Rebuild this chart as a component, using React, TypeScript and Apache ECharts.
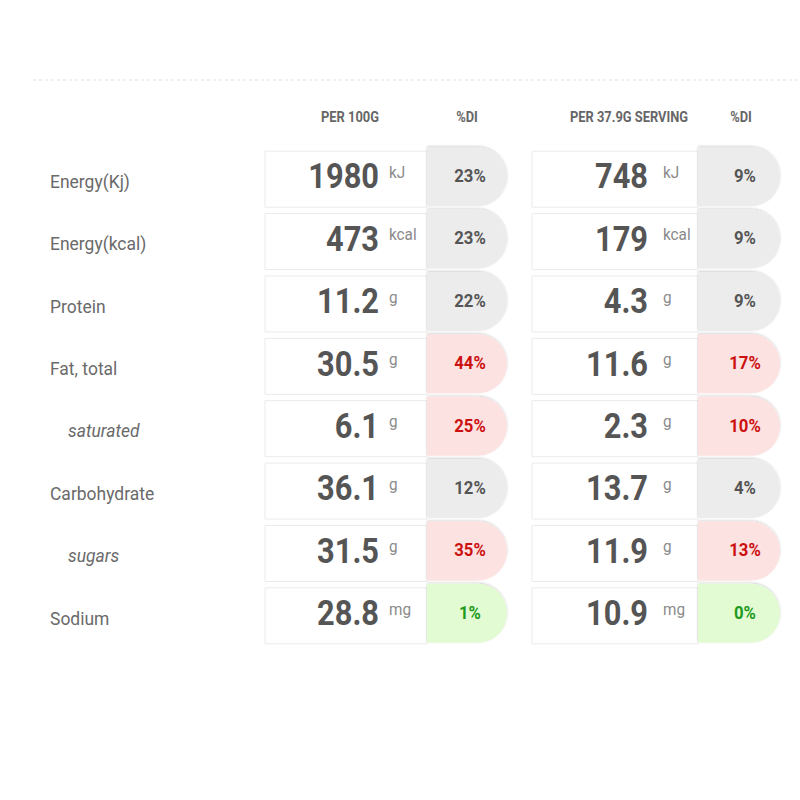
import React, { useEffect, useRef } from "react";
import * as echarts from "echarts";

const nutrients = ["Energy(Kj)", "Energy(kcal)", "Protein", "Fat, total", "saturated", "Carbohydrate", "sugars", "Sodium"];
const isSub = [false, false, false, false, true, false, true, false];
const units = ["kJ", "kcal", "g", "g", "g", "g", "g", "mg"];
const per100g = [1980, 473, 11.2, 30.5, 6.1, 36.1, 31.5, 28.8];
const di100g = [23, 23, 22, 44, 25, 12, 35, 1];
const perServing = [748, 179, 4.3, 11.6, 2.3, 13.7, 11.9, 10.9];
const diServing = [9, 9, 9, 17, 10, 4, 13, 0];
const levels = ["mid", "mid", "mid", "high", "high", "mid", "high", "low"];
const headers = ["PER 100G", "%DI", "PER 37.9G SERVING", "%DI"];

const FONT = "Roboto, 'Noto Sans', sans-serif";
const fmt = (v: number) => (Number.isInteger(v) ? String(v) : v.toFixed(1));
const pillFill: Record<string, string> = { mid: "#ececec", high: "#fde2e2", low: "#e2fbd2" };
const pillText: Record<string, string> = { mid: "#555555", high: "#cc1111", low: "#1f9a1f" };

export default function App() {
  const ref = useRef<HTMLDivElement>(null);
  useEffect(() => {
    const chart = echarts.init(ref.current!, null, { renderer: "svg" });
    const blocks = [
      { cellX: 265, cellW: 162, numRight: 379, unitX: 389, pillX: 427, pillW: 80, pctX: 470, vals: per100g, dis: di100g },
      { cellX: 532, cellW: 166, numRight: 648, unitX: 663, pillX: 698, pillW: 82, pctX: 745, vals: perServing, dis: diServing },
    ];
    const option: any = {
      animation: false,
      grid: { left: 0, right: 0, top: 148, bottom: 153 },
      xAxis: { type: "value", min: 0, max: 800, show: false },
      yAxis: { type: "category", data: nutrients, inverse: true, show: false },
      graphic: [
        { type: "line", shape: { x1: 33, y1: 80, x2: 800, y2: 80 }, style: { stroke: "#dddddd", lineWidth: 1, lineDash: [3, 3] } },
        ...headers.map((h, k) => ({
          type: "text",
          x: [350, 467, 629, 741][k],
          y: 117,
          scaleX: 0.92,
          style: { text: h, fill: "#666666", fontSize: 14, fontWeight: "bold", fontFamily: FONT, align: "center", verticalAlign: "middle" },
        })),
      ],
      series: [
        {
          type: "custom",
          coordinateSystem: "cartesian2d",
          data: nutrients.map((_, i) => [0, i]),
          encode: { x: 0, y: 1 },
          renderItem: (params: any, api: any) => {
            const i = api.value(1);
            const cy = api.coord([0, i])[1];
            const children: any[] = [];
            children.push({
              type: "text",
              x: isSub[i] ? 68 : 50,
              y: cy + 2,
              scaleX: 0.92,
              style: {
                text: nutrients[i],
                fill: "#6a6a6a",
                fontSize: 19,
                fontStyle: isSub[i] ? "italic" : "normal",
                fontFamily: FONT,
                align: "left",
                verticalAlign: "middle",
              },
            });
            blocks.forEach((b) => {
              children.push({
                type: "rect",
                shape: { x: b.cellX, y: cy - 28, width: b.cellW, height: 56 },
                style: { fill: "#ffffff", stroke: "#ebebeb", lineWidth: 1 },
              });
              children.push({
                type: "rect",
                shape: { x: b.pillX, y: cy - 32, width: b.pillW, height: 59, r: [0, 29, 29, 0] },
                style: { fill: pillFill[levels[i]], shadowBlur: 2, shadowColor: "rgba(0,0,0,0.18)", shadowOffsetY: -1 },
              });
              children.push({
                type: "text",
                x: b.numRight,
                y: cy - 3,
                scaleX: 0.88,
                style: { text: fmt(b.vals[i]), fill: "#555555", fontSize: 35, fontWeight: "bold", fontFamily: FONT, align: "right", verticalAlign: "middle" },
              });
              children.push({
                type: "text",
                x: b.unitX,
                y: cy - 7,
                scaleX: 0.9,
                style: { text: units[i], fill: "#8a8a8a", fontSize: 17, fontFamily: FONT, align: "left", verticalAlign: "middle" },
              });
              children.push({
                type: "text",
                x: b.pctX,
                y: cy - 4,
                scaleX: 0.88,
                style: { text: b.dis[i] + "%", fill: pillText[levels[i]], fontSize: 19, fontWeight: "bold", fontFamily: FONT, align: "center", verticalAlign: "middle" },
              });
            });
            return { type: "group", children };
          },
        },
      ],
    };
    chart.setOption(option);
    return () => chart.dispose();
  }, []);
  return <div ref={ref} style={{ position: "fixed", left: 0, top: 0, width: 800, height: 800, background: "#fff" }} />;
}
